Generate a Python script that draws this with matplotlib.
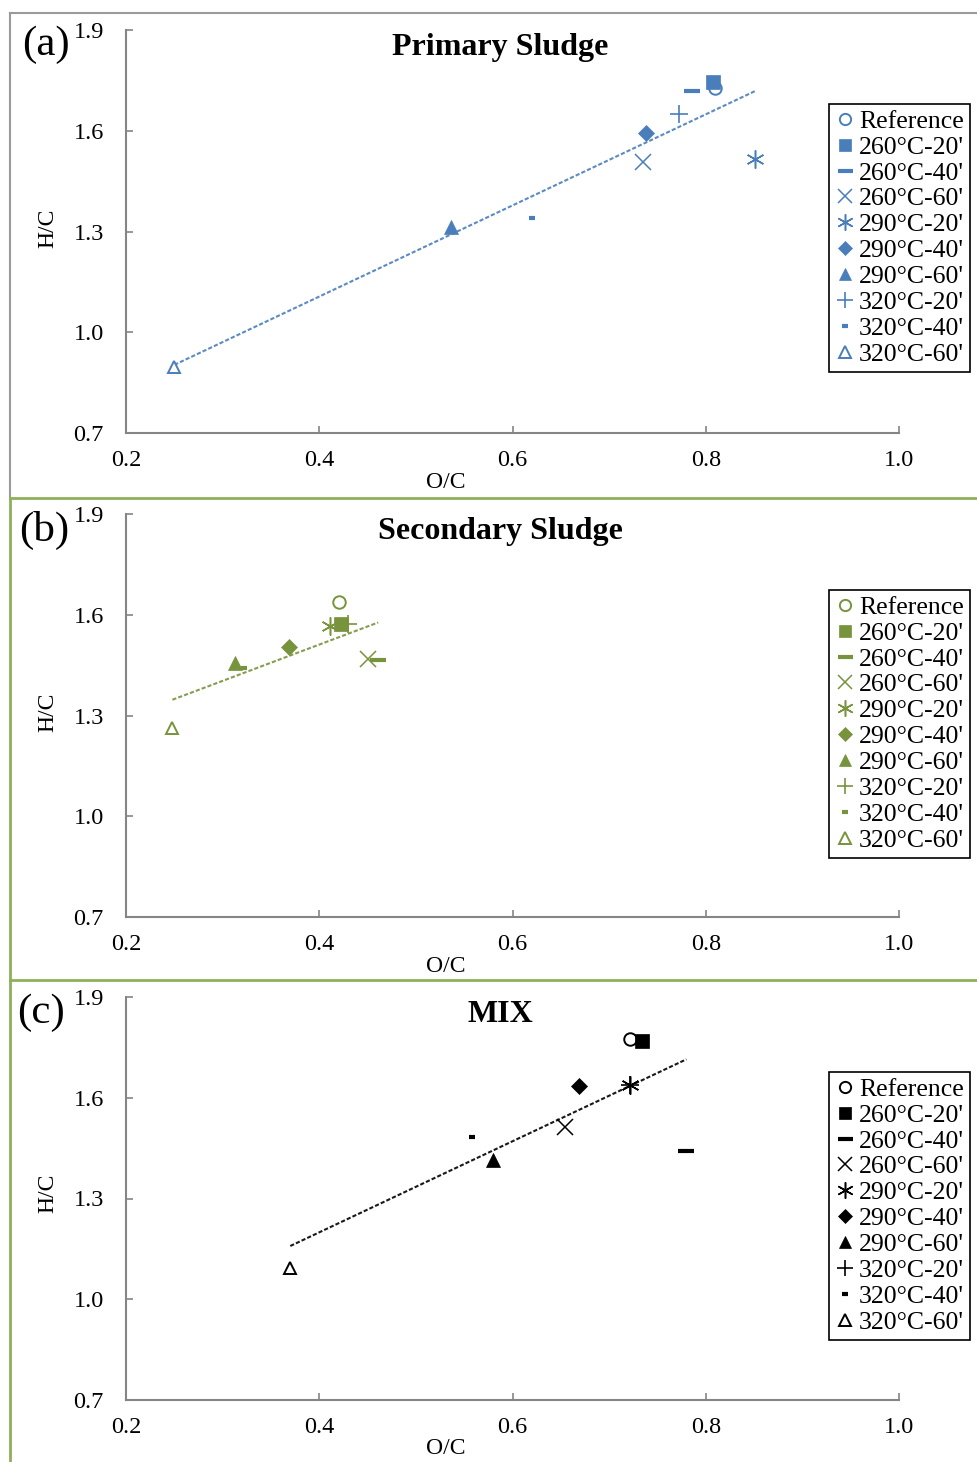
import numpy as np
import matplotlib
matplotlib.use("Agg")
import matplotlib.pyplot as plt
from matplotlib.lines import Line2D

# ---------------- data ----------------
labels = ["Reference", "260°C-20'", "260°C-40'", "260°C-60'", "290°C-20'",
          "290°C-40'", "290°C-60'", "320°C-20'", "320°C-40'", "320°C-60'"]

primary_oc = [0.810, 0.808, 0.786, 0.735, 0.851, 0.738, 0.536, 0.772, 0.620, 0.250]
primary_hc = [1.727, 1.745, 1.718, 1.507, 1.516, 1.593, 1.313, 1.650, 1.340, 0.896]

secondary_oc = [0.420, 0.422, 0.461, 0.450, 0.411, 0.369, 0.313, 0.430, 0.322, 0.248]
secondary_hc = [1.638, 1.571, 1.465, 1.468, 1.567, 1.504, 1.456, 1.572, 1.441, 1.263]

mix_oc = [0.722, 0.734, 0.780, 0.654, 0.722, 0.669, 0.580, 0.722, 0.558, 0.370]
mix_hc = [1.774, 1.770, 1.441, 1.514, 1.637, 1.635, 1.415, 1.637, 1.482, 1.092]

titles = ["Primary Sludge", "Secondary Sludge", "MIX"]
panel_tags = ["(a)", "(b)", "(c)"]
x_ticks = [0.2, 0.4, 0.6, 0.8, 1.0]
y_ticks = [0.7, 1.0, 1.3, 1.6, 1.9]

# ---------------- styles ----------------
W, H = 977, 1462
plt.rcParams['font.family'] = ['Liberation Serif', 'DejaVu Serif']
fig = plt.figure(figsize=(W / 100, H / 100), dpi=100)

colors = ["#4A7EBB", "#77933C", "#000000"]
marker_styles = [
    dict(marker='o', ms=9, mew=1.4, open=True),
    dict(marker='s', ms=10, mew=0.5, open=False),
    dict(marker='_', ms=12, mew=3.0, open=False),
    dict(marker='x', ms=11, mew=1.1, open=False),
    dict(marker=(6, 2, 0), ms=13, mew=1.1, open=False),
    dict(marker='D', ms=8, mew=0.5, open=False),
    dict(marker='^', ms=10, mew=0.5, open=False),
    dict(marker='+', ms=13, mew=1.2, open=False),
    dict(marker='_', ms=5, mew=3.0, open=False),
    dict(marker='^', ms=9, mew=1.4, open=True),
]

# pixel layout per panel
axes_top = [30, 514, 997]
ax_h = 403
ax_left, ax_right = 126, 899
title_y = [47, 531, 1014]
tag_pos = [(46, 45), (44, 530), (41, 1013)]
xlabel_y = [482, 966, 1448]
ylabel_y = [228, 712, 1193]
legend_top = [104, 590, 1072]

def fx(x):
    return x / W

def fy(y):
    return 1 - y / H

# frames
gray = "#9A9A9A"
green = "#8EB05B"
frame_lines = [
    ([10, W], [13, 13], gray, 1.5), ([10, 10], [13, 498], gray, 1.5),
    ([10, W], [498, 498], green, 2.0), ([10, 10], [498, 980], green, 2.0),
    ([10, W], [980, 980], green, 2.0), ([10, 10], [980, H], green, 2.0),
]
for xs, ys, c, lw in frame_lines:
    fig.add_artist(Line2D([fx(v) for v in xs], [fy(v) for v in ys],
                          transform=fig.transFigure, color=c, lw=lw))

datasets = [(primary_oc, primary_hc), (secondary_oc, secondary_hc), (mix_oc, mix_hc)]

for i, (xs, ys) in enumerate(datasets):
    col = colors[i]
    top = axes_top[i]
    ax = fig.add_axes([fx(ax_left), fy(top + ax_h), (ax_right - ax_left) / W, ax_h / H])
    ax.set_xlim(0.2, 1.0)
    ax.set_ylim(0.7, 1.9)
    for s in ['top', 'right']:
        ax.spines[s].set_visible(False)
    for s in ['left', 'bottom']:
        ax.spines[s].set_color('#858585')
        ax.spines[s].set_linewidth(1.5)
    ax.set_xticks(x_ticks)
    ax.set_yticks(y_ticks)
    ax.set_xticklabels([f"{v:.1f}" for v in x_ticks])
    ax.set_yticklabels([f"{v:.1f}" for v in y_ticks])
    ax.tick_params(direction='in', length=5, width=1.2, color='#858585',
                   labelsize=17.5)
    ax.tick_params(axis='x', pad=12)
    ax.tick_params(axis='y', pad=16)
    ax.patch.set_alpha(0)

    # trend line (least squares)
    xa, ya = np.array(xs), np.array(ys)
    k, b = np.polyfit(xa, ya, 1)
    xt = np.array([xa.min(), xa.max()])
    ax.plot(xt, k * xt + b, color=col, lw=1.5, ls=(0, (2.0, 1.0)), alpha=0.9,
            zorder=2)

    handles = []
    for j, lab in enumerate(labels):
        st = marker_styles[j]
        h, = ax.plot([xs[j]], [ys[j]], ls='none', marker=st['marker'], ms=st['ms'],
                     mew=st['mew'], color=col, mec=col,
                     mfc='white' if st['open'] else col, label=lab, zorder=3,
                     clip_on=False)
        handles.append(h)

    leg = ax.legend(handles=handles, loc='upper left',
                    bbox_to_anchor=(fx(829), fy(legend_top[i])),
                    bbox_transform=fig.transFigure, fontsize=18.5, frameon=True,
                    fancybox=False, edgecolor='black', framealpha=1,
                    borderpad=0.22, labelspacing=0.115, handlelength=0.8,
                    handletextpad=0.15, borderaxespad=0, markerscale=0.9)
    leg.get_frame().set_linewidth(1.2)

    fig.text(fx(500), fy(title_y[i]), titles[i], ha='center', va='center',
             fontsize=23, fontweight='bold')
    fig.text(fx(tag_pos[i][0]), fy(tag_pos[i][1]), panel_tags[i], ha='center',
             va='center', fontsize=31)
    fig.text(fx(446), fy(xlabel_y[i]), "O/C", ha='center', va='center', fontsize=17)
    fig.text(fx(48), fy(ylabel_y[i]), "H/C", ha='center', va='center', fontsize=17,
             rotation=90)

fig.savefig("out.png", dpi=100)
